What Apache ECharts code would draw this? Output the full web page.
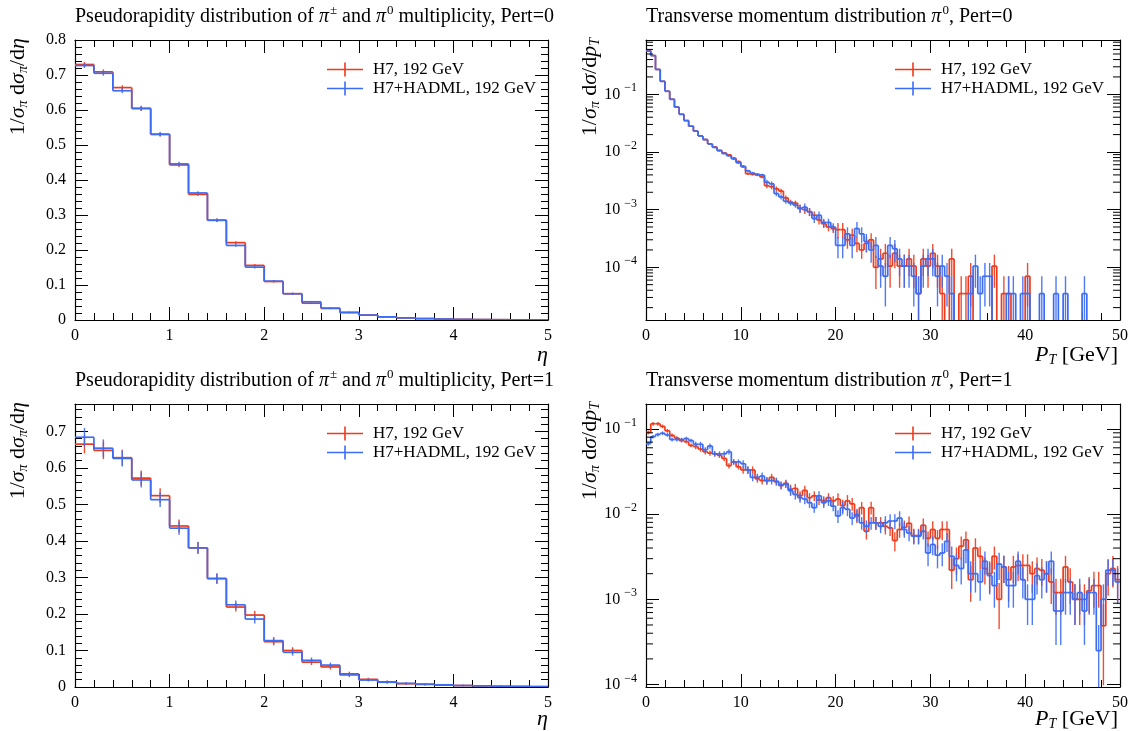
<!DOCTYPE html>
<html><head><meta charset="utf-8">
<script src="https://cdn.jsdelivr.net/npm/echarts@6/dist/echarts.min.js"></script>
<style>html,body{margin:0;padding:0;background:#fff}#c{width:1132px;height:731px}</style>
</head><body><div id="c"></div>
<script>
// ---------------- data ----------------
const seriesNames = ['H7, 192 GeV', 'H7+HADML, 192 GeV'];
const etaBinWidth = 0.2;
const ptBinWidth = 0.5;

// Pseudorapidity, Pert=0 (25 bins of 0.2)
const etaPert0H7 = [0.730,0.709,0.664,0.604,0.530,0.443,0.359,0.285,0.221,0.156,0.110,0.075,0.048,0.033,0.021,0.014,0.009,0.006,0.004,0.0028,0.0018,0.0012,0.0008,0.0005,0.0003];
const etaPert0HADML = [0.727,0.705,0.655,0.605,0.531,0.446,0.363,0.285,0.213,0.151,0.111,0.075,0.052,0.034,0.022,0.014,0.009,0.006,0.004,0.0027,0.0018,0.0012,0.0008,0.0005,0.0003];
const etaPert0Err = [0.007,0.007,0.007,0.007,0.006,0.006,0.005,0.005,0.004,0.004,0.003,0.003,0.002,0.002,0.002,0.001,0.001,0.001,0.001,0.0005,0.0005,0.0005,0.0005,0.0005,0.0005];

// Pseudorapidity, Pert=1
const etaPert1H7 = [0.665,0.648,0.628,0.572,0.524,0.441,0.381,0.297,0.219,0.197,0.124,0.100,0.068,0.055,0.036,0.021,0.014,0.009,0.007,0.005,0.004,0.003,0.002,0.0015,0.001];
const etaPert1HADML = [0.684,0.654,0.626,0.567,0.513,0.435,0.381,0.297,0.225,0.186,0.127,0.095,0.073,0.060,0.033,0.019,0.013,0.010,0.008,0.006,0.004,0.003,0.002,0.0015,0.001];
const etaPert1Err = [0.025,0.024,0.022,0.021,0.020,0.018,0.016,0.014,0.012,0.012,0.010,0.009,0.008,0.007,0.006,0.004,0.004,0.003,0.003,0.002,0.002,0.002,0.002,0.001,0.001];

// pT, Pert=0 (100 bins of 0.5 GeV)
const ptPert0H7 = [0.58,0.47,0.27,0.168,0.113,0.082,0.060,0.045,0.035,0.028,
 0.023,0.019,0.0164,0.0138,0.0122,0.0107,0.0096,0.0089,0.0078,0.0068,
 0.0056,0.0042,0.0041,0.0040,0.0037,0.0026,0.0025,0.0023,0.0021,0.0016,
 0.00135,0.0013,0.00105,0.0010,0.00092,0.0008,0.00066,0.00057,0.0005,0.00047,
 0.00045,0.00045,0.0003,0.00036,0.00026,0.0002,0.00026,0.0003,0.0001,0.00014,
 1.75e-4,1.05e-4,1.75e-4,1.05e-4,1.05e-4,1.4e-4,1.05e-4,3.5e-5,1.4e-4,1.05e-4,
 1.75e-4,1.05e-4,3.5e-5,0,1.4e-4,0,3.5e-5,3.5e-5,7e-5,0,
 0,0,0,1.05e-4,0,3.5e-5,3.5e-5,0,0,0,
 7e-5,0,0,0,0,0,0,0,0,0,
 0,0,0,0,0,0,0,0,0,0];
const ptPert0H7RelErr = [0.01,0.01,0.01,0.01,0.01,0.01,0.01,0.01,0.01,0.01,
 0.03,0.03,0.03,0.03,0.03,0.03,0.03,0.03,0.05,0.05,
 0.05,0.05,0.05,0.05,0.05,0.1,0.1,0.1,0.1,0.1,
 0.1,0.1,0.16,0.16,0.16,0.16,0.16,0.16,0.16,0.16,
 0.3,0.3,0.3,0.3,0.3,0.3,0.3,0.3,0.58,0.5,
 0.45,0.58,0.45,0.58,0.58,0.5,0.58,1,0.5,0.58,
 0.45,0.58,1,0,0.5,0,1,1,0.7,0,
 0,0,0,0.58,0,1,1,0,0,0,
 0.7,0,0,0,0,0,0,0,0,0,
 0,0,0,0,0,0,0,0,0,0];
const ptPert0HADML = [0.56,0.47,0.27,0.168,0.113,0.082,0.060,0.045,0.035,0.028,
 0.023,0.019,0.0164,0.0138,0.0120,0.0105,0.0094,0.0086,0.0076,0.0065,
 0.0056,0.0047,0.0043,0.0041,0.0040,0.0030,0.0028,0.0019,0.00166,0.0014,
 0.0013,0.0012,0.00105,0.0011,0.00092,0.0007,0.0008,0.0006,0.0006,0.0005,
 0.00024,0.00024,0.00038,0.00024,0.00047,0.00038,0.00028,0.0002,0.00024,1.05e-4,
 7e-5,2.4e-4,2.1e-4,1.4e-4,1.05e-4,1.05e-4,7e-5,3.5e-5,1.05e-4,1.4e-4,
 1.4e-4,7e-5,1.05e-4,7e-5,3.5e-5,0,0,0,3.5e-5,1.05e-4,
 3.5e-5,7e-5,7e-5,0,0,0,3.5e-5,3.5e-5,0,3.5e-5,
 3.5e-5,0,0,3.5e-5,0,0,3.5e-5,0,3.5e-5,0,
 0,0,3.5e-5,0,0,0,0,0,0,0];
const ptPert0HADMLRelErr = [0.01,0.01,0.01,0.01,0.01,0.01,0.01,0.01,0.01,0.01,
 0.03,0.03,0.03,0.03,0.03,0.03,0.03,0.03,0.05,0.05,
 0.05,0.05,0.05,0.05,0.05,0.1,0.1,0.1,0.1,0.1,
 0.1,0.1,0.16,0.16,0.16,0.16,0.16,0.16,0.16,0.16,
 0.4,0.4,0.3,0.4,0.3,0.3,0.35,0.4,0.4,0.58,
 0.7,0.4,0.42,0.5,0.58,0.58,0.7,1,0.58,0.5,
 0.5,0.7,0.58,0.7,1,0,0,0,1,0.58,
 1,0.7,0.7,0,0,0,1,1,0,1,
 1,0,0,1,0,0,1,0,1,0,
 0,0,1,0,0,0,0,0,0,0];

// pT, Pert=1
const ptPert1H7 = [0.091,0.115,0.115,0.107,0.095,0.084,0.078,0.073,0.071,0.064,
 0.062,0.058,0.054,0.052,0.051,0.049,0.045,0.037,0.041,0.036,
 0.033,0.033,0.033,0.026,0.0247,0.0247,0.027,0.024,0.0216,0.023,
 0.0196,0.020,0.0164,0.019,0.0156,0.0164,0.0147,0.0143,0.0156,0.0143,
 0.015,0.0126,0.0143,0.0132,0.0095,0.0119,0.0063,0.0119,0.0079,0.0079,
 0.0072,0.0069,0.0049,0.0066,0.0070,0.0078,0.0056,0.0056,0.0074,0.0052,
 0.0066,0.0052,0.0066,0.0066,0.0022,0.0030,0.0042,0.0050,0.0017,0.0040,
 0.0032,0.0023,0.0020,0.0032,0.0010,0.0024,0.0017,0.0024,0.0025,0.0025,
 0.0025,0.0020,0.0023,0.0022,0.0020,0.0016,0.0012,0.0012,0.0024,0.0016,
 0.0010,0.0010,0.0010,0.00126,0.00145,0.00145,0.00049,0.0020,0.0023,0.0017];
const ptPert1H7RelErr = [0.05,0.05,0.05,0.05,0.05,0.05,0.05,0.05,0.05,0.05,
 0.07,0.07,0.07,0.07,0.07,0.07,0.07,0.07,0.07,0.07,
 0.1,0.1,0.1,0.1,0.1,0.1,0.1,0.1,0.1,0.1,
 0.13,0.13,0.13,0.13,0.13,0.13,0.13,0.13,0.13,0.13,
 0.17,0.17,0.17,0.17,0.17,0.17,0.2,0.17,0.17,0.17,
 0.2,0.2,0.25,0.2,0.2,0.2,0.2,0.2,0.2,0.2,
 0.25,0.25,0.25,0.25,0.4,0.35,0.3,0.25,0.45,0.3,
 0.3,0.35,0.4,0.3,0.55,0.35,0.45,0.35,0.35,0.35,
 0.35,0.4,0.35,0.35,0.4,0.45,0.45,0.45,0.35,0.45,
 0.5,0.5,0.5,0.45,0.45,0.45,0.8,0.45,0.4,0.45];
const ptPert1HADML = [0.067,0.081,0.086,0.089,0.085,0.075,0.075,0.075,0.077,0.073,
 0.066,0.066,0.057,0.063,0.051,0.051,0.051,0.054,0.041,0.041,
 0.039,0.033,0.027,0.027,0.028,0.0247,0.0247,0.0243,0.022,0.0225,
 0.0188,0.017,0.0156,0.015,0.0136,0.0119,0.0164,0.0136,0.0143,0.0124,
 0.0095,0.0119,0.0114,0.009,0.0099,0.0079,0.0072,0.0079,0.0079,0.0072,
 0.0079,0.0083,0.0083,0.0090,0.0066,0.0060,0.0055,0.0055,0.0063,0.0035,
 0.0044,0.0033,0.0035,0.0048,0.0032,0.0025,0.0023,0.0038,0.0020,0.0020,
 0.0016,0.0028,0.0019,0.00145,0.0026,0.0024,0.00145,0.00145,0.0028,0.0017,
 0.0010,0.0010,0.0019,0.0017,0.0020,0.0028,0.00073,0.00073,0.0012,0.0012,
 0.0010,0.0012,0.00073,0.0012,0.0012,0.00025,0.0010,0.0022,0.0022,0.0016];
const ptPert1HADMLRelErr = [0.05,0.05,0.05,0.05,0.05,0.05,0.05,0.05,0.05,0.05,
 0.07,0.07,0.07,0.07,0.07,0.07,0.07,0.07,0.07,0.07,
 0.1,0.1,0.1,0.1,0.1,0.1,0.1,0.1,0.1,0.1,
 0.13,0.13,0.13,0.13,0.13,0.13,0.13,0.13,0.13,0.13,
 0.17,0.17,0.17,0.17,0.17,0.17,0.17,0.17,0.17,0.17,
 0.2,0.2,0.2,0.2,0.2,0.2,0.2,0.2,0.2,0.3,
 0.25,0.3,0.3,0.25,0.3,0.35,0.35,0.3,0.4,0.4,
 0.4,0.3,0.4,0.45,0.35,0.35,0.45,0.45,0.3,0.4,
 0.5,0.5,0.4,0.4,0.4,0.3,0.6,0.6,0.45,0.45,
 0.5,0.45,0.6,0.45,0.45,1.0,0.5,0.35,0.35,0.45];

// axis tick values
const etaTicks = [0,1,2,3,4,5];
const ptTicks = [0,10,20,30,40,50];

// ---------------- chart ----------------
const FONT = 'Liberation Serif';
const RED = '#ee3a1a';
const BLUE = '#3c6cf4';

function histData(vals, errs, w, relative) {
  return vals.map((v, i) => [i * w, (i + 1) * w, v, relative ? v * errs[i] : errs[i], i > 0 ? vals[i - 1] : 0, i]);
}

function makeRender(isLog, color) {
  return function (params, api) {
    const cs = params.coordSys;
    const lo = api.value(0), hi = api.value(1), v = api.value(2), e = api.value(3), prev = api.value(4), idx = api.value(5);
    const bottom = cs.y + cs.height;
    const ref = isLog ? 1 : 0;
    const xl = api.coord([lo, ref])[0], xh = api.coord([hi, ref])[0], xc = (xl + xh) / 2;
    const py = (val) => (isLog ? (val > 0 ? api.coord([lo, val])[1] : bottom + 4) : api.coord([lo, val])[1]);
    const children = [];
    const yv = py(v);
    if (e > 0 && v > 0) {
      const yTop = py(v + e), yBot = py(v - e);
      children.push({ type: 'line', shape: { x1: xc, y1: yTop, x2: xc, y2: yBot }, style: { stroke: color, lineWidth: 1.4, opacity: 0.9 } });
    }
    if (idx > 0) children.push({ type: 'line', shape: { x1: xl, y1: py(prev), x2: xl, y2: yv }, style: { stroke: color, lineWidth: 1.7 } });
    children.push({ type: 'line', shape: { x1: xl, y1: yv, x2: xh, y2: yv }, style: { stroke: color, lineWidth: 1.7 } });
    return { type: 'group', children };
  };
}

function minorRender(params, api) {
  const cs = params.coordSys;
  const y = api.coord([1, api.value(1)])[1];
  const len = 7;
  return { type: 'group', children: [
    { type: 'line', shape: { x1: cs.x, y1: y, x2: cs.x + len, y2: y }, style: { stroke: '#000', lineWidth: 1 } },
    { type: 'line', shape: { x1: cs.x + cs.width - len, y1: y, x2: cs.x + cs.width, y2: y }, style: { stroke: '#000', lineWidth: 1 } }
  ] };
}

function logMinorValues(min, max) {
  const out = [];
  for (let d = -7; d <= 1; d++) for (let m = 2; m <= 9; m++) {
    const v = m * Math.pow(10, d);
    if (v > min && v < max) out.push([1, v]);
  }
  return out;
}

const grids = [
  { left: 75, top: 40, width: 473, height: 280 },
  { left: 646, top: 40, width: 474, height: 280 },
  { left: 75, top: 404, width: 473, height: 283 },
  { left: 646, top: 404, width: 474, height: 283 }
];

const labelFont = { fontFamily: FONT, fontSize: 16, color: '#000' };

function xAxisPair(g, ticks) {
  const base = {
    gridIndex: g, type: 'value', min: ticks[0], max: ticks[ticks.length - 1], interval: ticks[1] - ticks[0],
    axisLine: { show: true, onZero: false, lineStyle: { color: '#000', width: 1.2 } },
    axisTick: { show: true, inside: true, length: 13, lineStyle: { color: '#000', width: 1 } },
    minorTick: { show: true, splitNumber: 5, length: 7, lineStyle: { color: '#000', width: 1 } },
    splitLine: { show: false }, minorSplitLine: { show: false }
  };
  return [
    Object.assign({}, base, { position: 'bottom', axisLabel: Object.assign({ margin: 8 }, labelFont) }),
    Object.assign({}, base, { position: 'top', axisLabel: { show: false } })
  ];
}

function yLinPair(g, max) {
  const base = {
    gridIndex: g, type: 'value', min: 0, max: max, interval: 0.1,
    axisLine: { show: true, onZero: false, lineStyle: { color: '#000', width: 1.2 } },
    axisTick: { show: true, inside: true, length: 13, lineStyle: { color: '#000', width: 1 } },
    minorTick: { show: true, splitNumber: 5, length: 7, lineStyle: { color: '#000', width: 1 } },
    splitLine: { show: false }, minorSplitLine: { show: false }
  };
  return [
    Object.assign({}, base, { position: 'left', axisLabel: Object.assign({ margin: 9, showMaxLabel: max === 0.8, formatter: (v) => (Math.abs(v * 10 - Math.round(v * 10)) < 1e-6 ? String(Math.round(v * 10) / 10) : '') }, labelFont) }),
    Object.assign({}, base, { position: 'right', axisLabel: { show: false } })
  ];
}

function logLabel(val) {
  const l = Math.log10(val);
  const e = Math.round(l);
  if (Math.abs(l - e) > 1e-6) return '';
  return '{b|10}{s|\u2212' + (-e) + '}';
}

function yLogPair(g, min, max) {
  const base = {
    gridIndex: g, type: 'log', logBase: 10, min: min, max: max,
    axisLine: { show: true, onZero: false, lineStyle: { color: '#000', width: 1.2 } },
    axisTick: { show: true, inside: true, length: 13, lineStyle: { color: '#000', width: 1 } },
    minorTick: { show: false }, splitLine: { show: false }, minorSplitLine: { show: false }
  };
  return [
    Object.assign({}, base, { position: 'left', axisLabel: { margin: 9, color: '#000', formatter: logLabel, showMinLabel: true, showMaxLabel: true,
      rich: { b: { fontFamily: FONT, fontSize: 16, color: '#000' }, s: { fontFamily: FONT, fontSize: 12, color: '#000', padding: [0, 0, 12, 4] } } } }),
    Object.assign({}, base, { position: 'right', axisLabel: { show: false } })
  ];
}

const xAxes = [].concat(xAxisPair(0, etaTicks), xAxisPair(1, ptTicks), xAxisPair(2, etaTicks), xAxisPair(3, ptTicks));
const TR_MIN = 1.22e-5, TR_MAX = 0.874, BR_MIN = 9.36e-5, BR_MAX = 0.196;
const yAxes = [].concat(yLinPair(0, 0.8), yLogPair(1, TR_MIN, TR_MAX), yLinPair(2, 0.775), yLogPair(3, BR_MIN, BR_MAX));

function hist(name, color, panel, isLog, data) {
  return {
    type: 'custom', name: name, xAxisIndex: panel * 2, yAxisIndex: panel * 2, clip: true, silent: true,
    itemStyle: { color: color }, encode: { x: [0, 1], y: 2 },
    renderItem: makeRender(isLog, color), data: data, animation: false
  };
}

const series = [
  hist(seriesNames[0], RED, 0, false, histData(etaPert0H7, etaPert0Err, etaBinWidth, false)),
  hist(seriesNames[1], BLUE, 0, false, histData(etaPert0HADML, etaPert0Err, etaBinWidth, false)),
  hist(seriesNames[0], RED, 1, true, histData(ptPert0H7, ptPert0H7RelErr, ptBinWidth, true)),
  hist(seriesNames[1], BLUE, 1, true, histData(ptPert0HADML, ptPert0HADMLRelErr, ptBinWidth, true)),
  hist(seriesNames[0], RED, 2, false, histData(etaPert1H7, etaPert1Err, etaBinWidth, false)),
  hist(seriesNames[1], BLUE, 2, false, histData(etaPert1HADML, etaPert1Err, etaBinWidth, false)),
  hist(seriesNames[0], RED, 3, true, histData(ptPert1H7, ptPert1H7RelErr, ptBinWidth, true)),
  hist(seriesNames[1], BLUE, 3, true, histData(ptPert1HADML, ptPert1HADMLRelErr, ptBinWidth, true)),
  { type: 'custom', name: 'minorTR', xAxisIndex: 2, yAxisIndex: 2, silent: true, encode: { x: 0, y: 1 }, renderItem: minorRender, data: logMinorValues(TR_MIN, TR_MAX), animation: false },
  { type: 'custom', name: 'minorBR', xAxisIndex: 6, yAxisIndex: 6, silent: true, encode: { x: 0, y: 1 }, renderItem: minorRender, data: logMinorValues(BR_MIN, BR_MAX), animation: false }
];

const ICON = 'path://M0,6.2 L36,6.2 L36,7.8 L0,7.8 Z M17.2,0 L18.8,0 L18.8,14 L17.2,14 Z';
const legends = [[327, 61], [895, 61], [327, 425], [895, 425]].map(p => ({
  left: p[0], top: p[1], orient: 'vertical', itemWidth: 36, itemHeight: 14, itemGap: 2, selectedMode: false, padding: 0,
  data: seriesNames.map(n => ({ name: n, icon: ICON })),
  textStyle: { fontFamily: FONT, fontSize: 17, color: '#000', padding: [0, 0, 0, 5] }
}));

const titleRich = {
  t: { fontFamily: FONT, fontSize: 20, color: '#000' },
  m: { fontFamily: FONT, fontSize: 20, color: '#000', fontStyle: 'italic' },
  sup: { fontFamily: FONT, fontSize: 13, color: '#000', padding: [0, 0, 12, 1] }
};
const titleTexts = [
  '{t|Pseudorapidity distribution of }{m|\u03c0}{sup|\u00b1}{t| and }{m|\u03c0}{sup|0}{t| multiplicity, Pert=0}',
  '{t|Transverse momentum distribution }{m|\u03c0}{sup|0}{t|, Pert=0}',
  '{t|Pseudorapidity distribution of }{m|\u03c0}{sup|\u00b1}{t| and }{m|\u03c0}{sup|0}{t| multiplicity, Pert=1}',
  '{t|Transverse momentum distribution }{m|\u03c0}{sup|0}{t|, Pert=1}'
];
const titles = [[75, 4], [646, 4], [75, 368], [646, 368]].map((p, i) => ({
  left: p[0], top: p[1], padding: 0, text: titleTexts[i], textStyle: { rich: titleRich, fontFamily: FONT, fontSize: 20, fontWeight: 'normal', color: '#000' }
}));

const axRich = {
  n: { fontFamily: FONT, fontSize: 22, color: '#000' },
  m: { fontFamily: FONT, fontSize: 22, color: '#000', fontStyle: 'italic' },
  sub: { fontFamily: FONT, fontSize: 14, color: '#000', fontStyle: 'italic', padding: [10, 0, 0, 0] }
};
const yTitleEta = '{n|1/}{m|\u03c3}{sub|\u03c0}{n| d}{m|\u03c3}{sub|\u03c0}{n|/d}{m|\u03b7}';
const yTitlePt = '{n|1/}{m|\u03c3}{sub|\u03c0}{n| d}{m|\u03c3}{n|/d}{m|p}{sub|T}';
const xTitleEta = '{m|\u03b7}';
const xTitlePt = '{m|P}{sub|T}{n| [GeV]}';

function yTitle(x, y, text) {
  return { type: 'text', x: x, y: y, rotation: Math.PI / 2, silent: true,
    style: { text: text, rich: axRich, align: 'right', verticalAlign: 'middle', fill: '#000' } };
}
function xTitle(x, y, text) {
  return { type: 'text', x: x, y: y, silent: true, style: { text: text, rich: axRich, align: 'right', verticalAlign: 'middle', fill: '#000' } };
}

const option = {
  backgroundColor: '#fff',
  animation: false,
  title: titles,
  legend: legends,
  grid: grids,
  xAxis: xAxes,
  yAxis: yAxes,
  series: series,
  graphic: [
    yTitle(18, 38, yTitleEta), yTitle(590, 38, yTitlePt),
    yTitle(18, 402, yTitleEta), yTitle(590, 402, yTitlePt),
    xTitle(548, 355, xTitleEta), xTitle(1118, 355, xTitlePt),
    xTitle(548, 719, xTitleEta), xTitle(1118, 719, xTitlePt)
  ]
};

const chart = echarts.init(document.getElementById('c'), null, { renderer: 'canvas' });
chart.setOption(option);
</script></body></html>
